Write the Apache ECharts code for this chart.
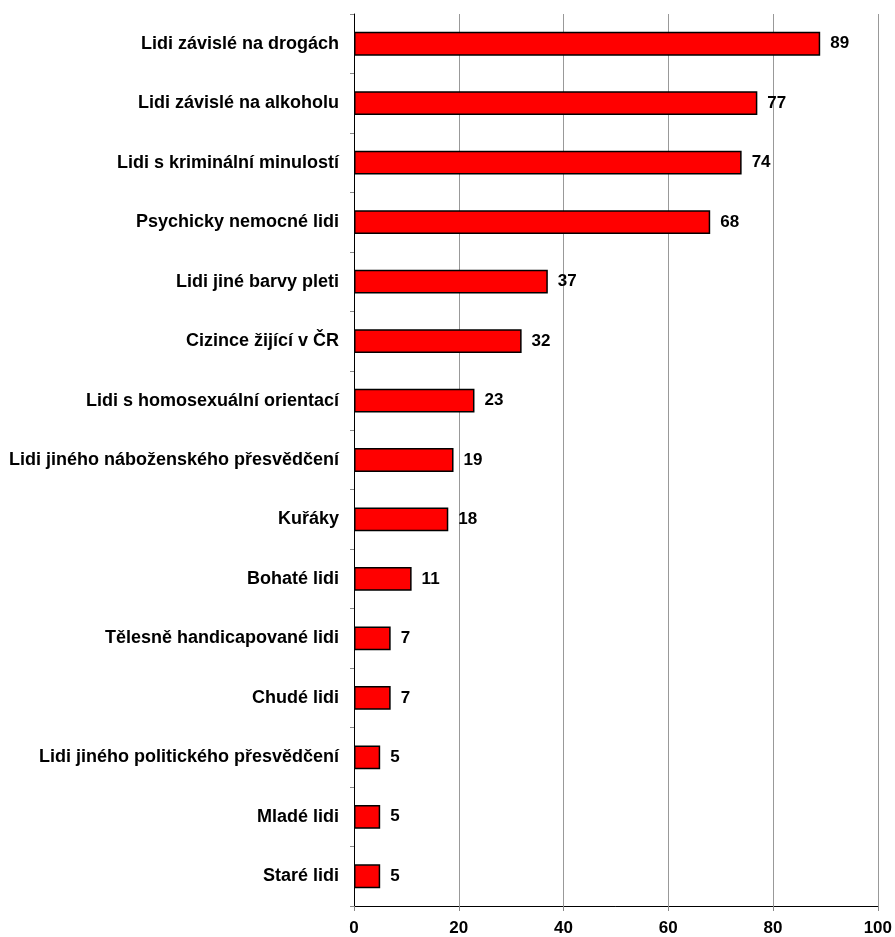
<!DOCTYPE html>
<html>
<head>
<meta charset="utf-8">
<script src="https://cdn.jsdelivr.net/npm/echarts@6/dist/echarts.min.js"></script>
<style>
html,body{margin:0;padding:0;background:#fff;}
#chart{width:895px;height:937px;}
</style>
</head>
<body>
<div id="chart"></div>
<script>
const categories = [
  "Lidi závislé na drogách",
  "Lidi závislé na alkoholu",
  "Lidi s kriminální minulostí",
  "Psychicky nemocné lidi",
  "Lidi jiné barvy pleti",
  "Cizince žijící v ČR",
  "Lidi s homosexuální orientací",
  "Lidi jiného náboženského přesvědčení",
  "Kuřáky",
  "Bohaté lidi",
  "Tělesně handicapované lidi",
  "Chudé lidi",
  "Lidi jiného politického přesvědčení",
  "Mladé lidi",
  "Staré lidi"
];
const values = [89, 77, 74, 68, 37, 32, 23, 19, 18, 11, 7, 7, 5, 5, 5];
const xTicks = [0, 20, 40, 60, 80, 100];

const FONT = "'Liberation Sans', Arial, Helvetica, sans-serif";
const chart = echarts.init(document.getElementById('chart'), null, {renderer: 'canvas'});
chart.setOption({
  animation: false,
  backgroundColor: '#ffffff',
  grid: {left: 354, right: 17, top: 14, bottom: 29, containLabel: false},
  xAxis: {
    type: 'value',
    min: xTicks[0],
    max: xTicks[xTicks.length - 1],
    interval: xTicks[1] - xTicks[0],
    axisLine: {show: true, lineStyle: {color: '#000', width: 1}},
    axisTick: {show: true, length: 5, lineStyle: {color: '#888'}},
    splitLine: {show: true, lineStyle: {color: '#999', width: 1}},
    axisLabel: {
      color: '#000', fontWeight: 'bold', fontSize: 17, fontFamily: FONT, margin: 14
    }
  },
  yAxis: {
    type: 'category',
    data: categories,
    inverse: true,
    axisLine: {show: true, lineStyle: {color: '#000', width: 1}},
    axisTick: {show: true, length: 4, lineStyle: {color: '#888'}},
    splitLine: {show: false},
    axisLabel: {
      color: '#000', fontWeight: 'bold', fontSize: 18, fontFamily: FONT, margin: 15
    }
  },
  series: [{
    type: 'bar',
    data: values,
    barWidth: '40%',
    itemStyle: {color: '#ff0000', borderColor: '#000', borderWidth: 1.5},
    label: {
      show: true, position: 'right', distance: 10,
      color: '#000', fontWeight: 'bold', fontSize: 17, fontFamily: FONT
    }
  }]
});
</script>
</body>
</html>
